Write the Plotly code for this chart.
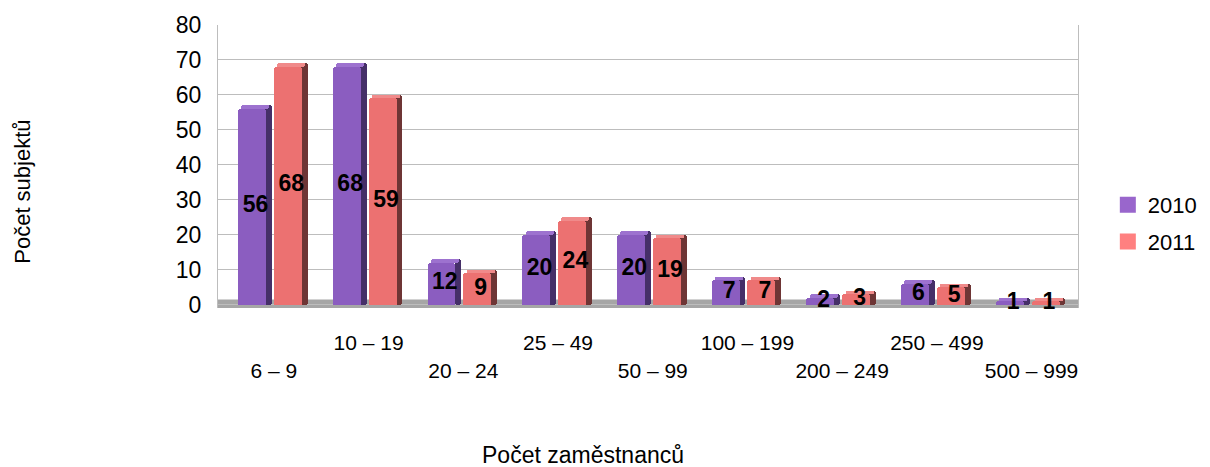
import plotly.graph_objects as go

categories = ["6 – 9", "10 – 19", "20 – 24", "25 – 49", "50 – 99",
              "100 – 199", "200 – 249", "250 – 499", "500 – 999"]
v2010 = [56, 68, 12, 20, 20, 7, 2, 6, 1]
v2011 = [68, 59, 9, 24, 19, 7, 3, 5, 1]
series_names = ["2010", "2011"]
y_ticks = [0, 10, 20, 30, 40, 50, 60, 70, 80]

FONT = "Arial, Liberation Sans, sans-serif"
idx = list(range(len(categories)))

W_FRONT = 0.295
W_SIDE = 0.072
styles = [
    dict(front="#8B5DC0", side="#452F68", top="#9D72CF", legend="#9966CC", off=-0.378),
    dict(front="#EC7171", side="#6E3535", top="#F08A8A", legend="#FF8080", off=0.0),
]

fig = go.Figure()
for name, vals, st in zip(series_names, [v2010, v2011], styles):
    # side face (darker, a bit taller for perspective)
    fig.add_trace(go.Bar(
        x=idx, y=[v + 1.0 for v in vals], base=0, width=W_SIDE, offset=st["off"] + W_FRONT - 0.01,
        marker=dict(color=st["side"], line=dict(width=0), cornerradius=3),
        showlegend=False, hoverinfo="skip"))
    # top face
    fig.add_trace(go.Bar(
        x=idx, y=[1.0] * len(vals), base=vals, width=W_FRONT, offset=st["off"] + W_SIDE * 0.5,
        marker=dict(color=st["top"], line=dict(width=0), cornerradius=3),
        showlegend=False, hoverinfo="skip"))
    # front face
    fig.add_trace(go.Bar(
        x=idx, y=vals, width=W_FRONT, offset=st["off"], name=name,
        legendgroup=name,
        marker=dict(color=st["front"], line=dict(width=0), cornerradius=3),
        showlegend=False))
    # legend swatch
    fig.add_trace(go.Scatter(
        x=[None], y=[None], name=name, legendgroup=name, mode="markers",
        marker=dict(color=st["legend"], symbol="square", size=16, line=dict(width=0)),
        showlegend=True))

# value labels centred in the bars
for vals, st in zip([v2010, v2011], styles):
    cx = st["off"] + (W_FRONT + W_SIDE) / 2
    fig.add_trace(go.Scatter(
        x=[i + cx for i in idx], y=[v / 2 for v in vals],
        mode="text", text=[str(v) for v in vals],
        textposition="middle center",
        textfont=dict(family=FONT, size=23, color="black", weight="bold"),
        showlegend=False, hoverinfo="skip", cliponaxis=False))

XR = [-0.59, 8.49]
odd = [i for i in idx if i % 2 == 1]
even = [i for i in idx if i % 2 == 0]

fig.update_layout(
    width=1202, height=459,
    margin=dict(l=210, r=132, t=17, b=158.5, autoexpand=False),
    paper_bgcolor="white", plot_bgcolor="white",
    barmode="overlay", bargap=0,
    font=dict(family=FONT, color="black"),
    xaxis=dict(range=XR, tickmode="array", tickvals=odd,
               ticktext=[categories[i] for i in odd], automargin=False,
               tickfont=dict(size=21), ticks="", ticklabelstandoff=20,
               showgrid=False, zeroline=False, showline=False),
    xaxis2=dict(range=XR, overlaying="x", side="bottom", tickmode="array",
                tickvals=even, ticktext=[categories[i] for i in even],
                automargin=False,
                tickfont=dict(size=21), ticks="", ticklabelstandoff=48,
                showgrid=False, zeroline=False, showline=False),
    yaxis=dict(range=[-1.0, 80], tickmode="array", tickvals=y_ticks,
               automargin=False,
               tickfont=dict(size=23), ticks="", ticklabelstandoff=11,
               showgrid=True, gridcolor="#BDBDBD", gridwidth=1,
               zeroline=False, showline=True, linecolor="#BDBDBD",
               linewidth=1, mirror=True),
    legend=dict(xref="container", yref="container", x=0.915, xanchor="left",
                y=0.5305, yanchor="middle",
                font=dict(size=22), traceorder="grouped", tracegroupgap=5,
                itemwidth=30, bgcolor="rgba(0,0,0,0)"),
    shapes=[dict(type="rect", xref="paper", yref="y", x0=0, x1=1.0,
                 y0=-1.0, y1=1.43, fillcolor="#A6A6A6",
                 line=dict(width=0), layer="below")],
    annotations=[
        dict(text="Počet subjektů", xref="paper", yref="paper",
             x=-0.227, y=0.41, textangle=-90, showarrow=False,
             xanchor="center", yanchor="middle", font=dict(size=22)),
        dict(text="Počet zaměstnanců", xref="paper", yref="paper",
             x=0.424, y=-0.52, showarrow=False,
             xanchor="center", yanchor="middle", font=dict(size=23)),
    ],
)
# dummy trace so xaxis2 is drawn
fig.add_trace(go.Scatter(x=[None], y=[None], xaxis="x2", showlegend=False,
                         hoverinfo="skip"))

fig.write_html("out.html")
